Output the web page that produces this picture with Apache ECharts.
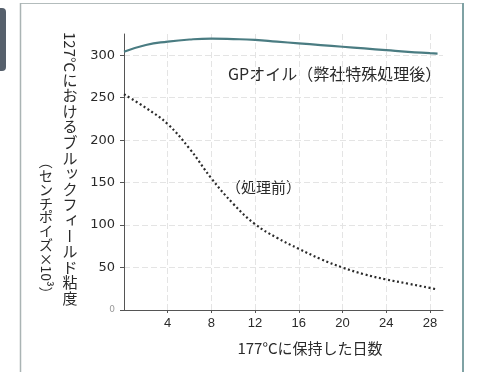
<!DOCTYPE html>
<html>
<head>
<meta charset="utf-8">
<script src="https://cdn.jsdelivr.net/npm/echarts@6/dist/echarts.min.js"></script>
<style>
  html, body { margin: 0; padding: 0; background: #fff; }
  #chart { width: 480px; height: 372px; }
</style>
</head>
<body>
<div id="chart"></div>
<script>
// Days held at 177°C
const days = [0, 2, 4, 6, 8, 10, 12, 14, 16, 18, 20, 22, 24, 26, 28, 28.7];
// Brookfield viscosity at 127°C (centipoise x 10^3)
const treatedOil = [304, 312, 316, 318.5, 319.5, 319, 318, 316, 314, 312, 310, 308, 306, 304, 302.5, 302];
const untreatedOil = [254, 238, 219, 190, 155, 125, 101, 85, 72, 60, 50, 42, 36, 31, 26, 24];
const xTicks = [4, 8, 12, 16, 20, 24, 28];
const yTicks = [0, 50, 100, 150, 200, 250, 300];

const treatedLabel = 'GPオイル（弊社特殊処理後）';
const untreatedLabel = '（処理前）';
const xTitle = '177°Cに保持した日数';
// vertical title columns: [text, rotated?]
const yTitleMain = [['127°C', true], ['におけるブルックフィ', false], ['ー', true], ['ルド粘度', false]];
const yTitleUnit = [['（', true], ['センチポイズ×', false], ['10³', true], ['）', true]];

const CJK = '"Noto Sans CJK JP", "Noto Sans", sans-serif';
const TXT = '#2a2a2a';

const measureCtx = document.createElement('canvas').getContext('2d');
function textWidth(t, font) { measureCtx.font = font; return measureCtx.measureText(t).width; }

// Lay out a tategaki-style column: upright CJK glyphs stacked, Latin runs turned sideways.
function verticalColumn(parts, cx, yStart, size, advance) {
  const font = size + 'px ' + CJK;
  const els = [];
  let y = yStart;
  parts.forEach(([t, rot]) => {
    if (rot) {
      const len = t.length === 1 ? advance : textWidth(t, font);
      els.push({
        type: 'text', x: cx, y: y + len / 2, rotation: -Math.PI / 2,
        style: { text: t, font: font, fill: TXT, align: 'center', verticalAlign: 'middle' }
      });
      y += len;
    } else {
      for (const ch of t) {
        const small = 'ッィャュョァ'.includes(ch);
        els.push({
          type: 'text', x: cx + (small ? 2 : 0), y: y + advance / 2 - (small ? 2 : 0),
          style: { text: ch, font: font, fill: TXT, align: 'center', verticalAlign: 'middle' }
        });
        y += advance;
      }
    }
  });
  return els;
}

const chart = echarts.init(document.getElementById('chart'));

const option = {
  backgroundColor: '#ffffff',
  animation: false,
  grid: { left: 124, right: 37, top: 34, bottom: 62 },
  xAxis: {
    type: 'value', min: 0, max: 29.2,
    axisLine: { lineStyle: { color: '#555', width: 1 } },
    axisTick: { show: true, length: 3, customValues: xTicks, lineStyle: { color: '#555' } },
    axisLabel: { customValues: xTicks, margin: 7, color: TXT, fontSize: 13, fontFamily: 'Liberation Sans' },
    splitLine: { show: true, lineStyle: { color: '#e4e4e4', type: [6, 3] } }
  },
  yAxis: {
    type: 'value', min: 0, max: 325,
    axisLine: { show: true, lineStyle: { color: '#555', width: 1 } },
    axisTick: { show: true, length: 4, customValues: yTicks, lineStyle: { color: '#555' } },
    axisLabel: {
      customValues: yTicks, margin: 9, color: TXT, fontSize: 13, fontFamily: 'DejaVu Sans',
      formatter: v => v === 0 ? '{z|0}' : String(v),
      rich: { z: { fontSize: 9, color: '#9a9a9a', fontFamily: 'DejaVu Sans' } }
    },
    splitLine: { show: true, lineStyle: { color: '#e4e4e4', type: [6, 3] } }
  },
  series: [
    {
      name: treatedLabel, type: 'line', smooth: true, symbol: 'none',
      data: days.map((d, i) => [d, treatedOil[i]]),
      lineStyle: { color: '#4a7c82', width: 2.2 }
    },
    {
      name: untreatedLabel, type: 'line', smooth: 0.4, symbol: 'none',
      data: days.map((d, i) => [d, untreatedOil[i]]),
      lineStyle: { color: '#2b2b2b', width: 2.2, type: [2, 2.6] }
    }
  ],
  graphic: [
    // page frame
    { type: 'line', shape: { x1: 20, y1: 3.5, x2: 463, y2: 3.5 }, style: { stroke: '#b3bcbc', lineWidth: 1.2 } },
    { type: 'line', shape: { x1: 20.5, y1: 3, x2: 20.5, y2: 372 }, style: { stroke: '#aab4b4', lineWidth: 1.5 } },
    { type: 'line', shape: { x1: 463, y1: 3, x2: 463, y2: 372 }, style: { stroke: '#7fa2a4', lineWidth: 2 } },
    { type: 'rect', shape: { x: -6, y: 8, width: 12, height: 63, r: 4 }, style: { fill: '#56606c' } },
    // series captions
    { type: 'text', x: 228, y: 74, style: { text: treatedLabel, font: '16px ' + CJK, fill: TXT, verticalAlign: 'middle' } },
    { type: 'text', x: 226, y: 187, style: { text: untreatedLabel, font: '15px ' + CJK, fill: TXT, verticalAlign: 'middle' } },
    // x-axis title
    { type: 'text', x: 310, y: 348, style: { text: xTitle, font: '15px ' + CJK, fill: TXT, align: 'center', verticalAlign: 'middle' } },
    // y-axis title columns
    ...verticalColumn(yTitleMain, 70, 32, 15, 15.6),
    ...verticalColumn(yTitleUnit, 46, 155, 14, 13.8)
  ]
};

chart.setOption(option);
</script>
</body>
</html>
